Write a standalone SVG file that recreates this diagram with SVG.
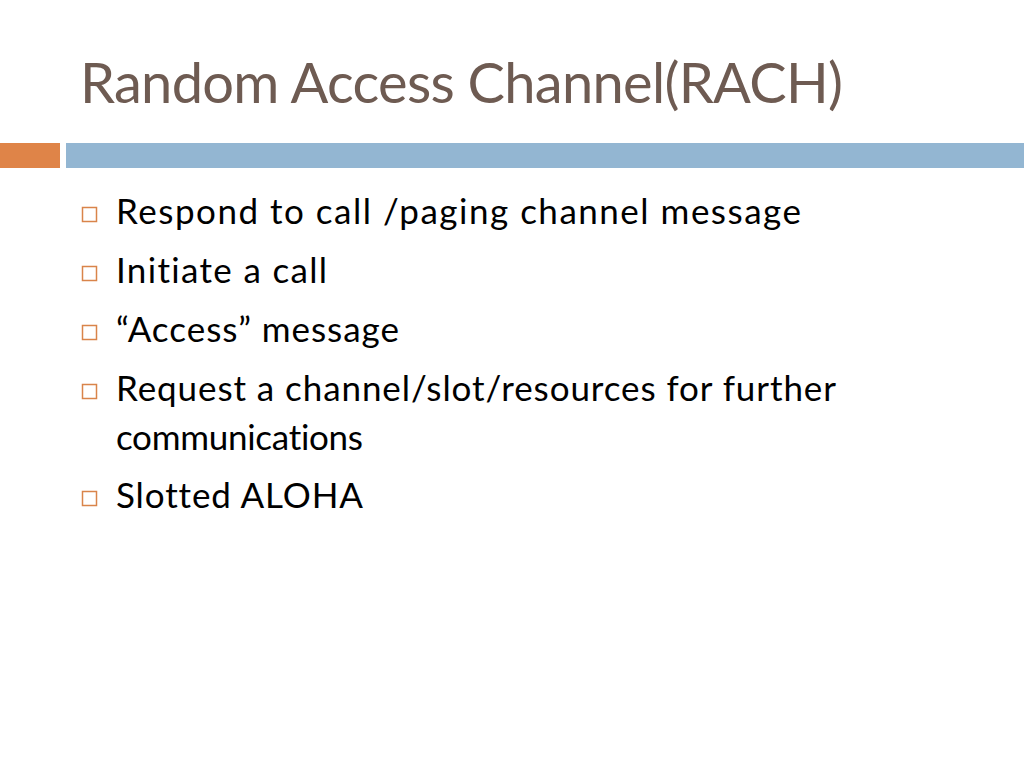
<svg xmlns="http://www.w3.org/2000/svg" width="1024" height="768" viewBox="0 0 1024 768">
<style>
.title{font-family:"Lato","Liberation Sans",sans-serif;font-size:56px;fill:#6E5B52;font-variant-ligatures:none}
.body{font-family:"Lato","Liberation Sans",sans-serif;font-size:35px;fill:#000;font-variant-ligatures:none}
.bul{fill:none;stroke:#D9844A;stroke-width:1.5}
</style>
<rect width="1024" height="768" fill="#fff"/>
<g id="title">
<text class="title" x="80" y="103" textLength="763">Random Access Channel(RACH)</text>
</g>
<g id="bars">
<rect x="0" y="143" width="60" height="25" fill="#DF8448"/>
<rect x="66" y="143" width="958" height="25" fill="#93B6D2"/>
</g>
<g id="bullets">
<rect class="bul" x="82.5" y="207.5" width="14" height="14"/>
<text class="body" x="116" y="224" textLength="685">Respond to call /paging channel message</text>
<rect class="bul" x="82.5" y="266.5" width="14" height="14"/>
<text class="body" x="116" y="283" textLength="211">Initiate a call</text>
<rect class="bul" x="82.5" y="325.5" width="14" height="14"/>
<text class="body" x="116" y="342" textLength="283">“Access” message</text>
<rect class="bul" x="82.5" y="384.5" width="14" height="14"/>
<text class="body" x="116" y="401" textLength="720">Request a channel/slot/resources for further</text>
<text class="body" x="116" y="450" textLength="247">communications</text>
<rect class="bul" x="82.5" y="491.5" width="14" height="14"/>
<text class="body" x="116" y="508" textLength="247">Slotted ALOHA</text>
</g>
</svg>
